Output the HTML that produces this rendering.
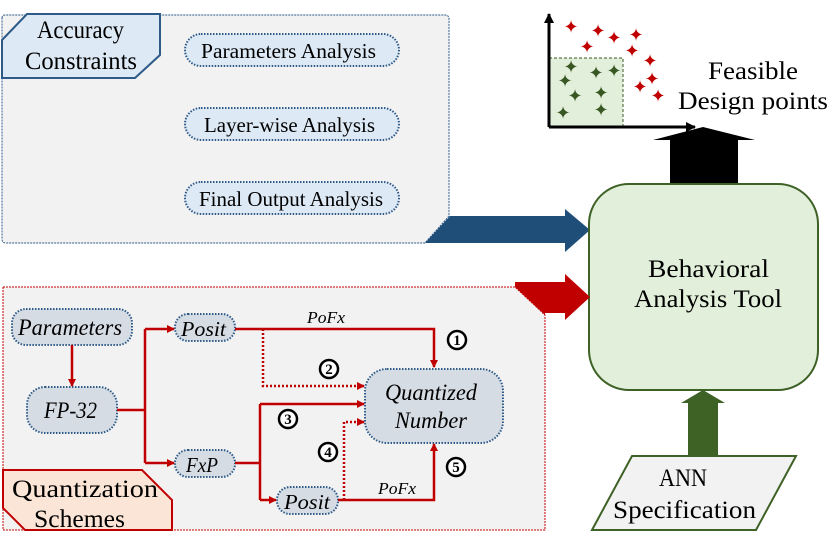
<!DOCTYPE html>
<html><head><meta charset="utf-8"><style>
html,body{margin:0;padding:0;background:#fff}
svg{display:block}
text{font-family:"Liberation Serif",serif}
</style></head><body>
<svg width="830" height="534" viewBox="0 0 830 534" xmlns="http://www.w3.org/2000/svg">
<defs>
<marker id="ra" markerWidth="8" markerHeight="8" refX="7" refY="4" orient="auto" markerUnits="userSpaceOnUse"><path d="M0,0 L8,4 L0,8 z" fill="#c00000"/></marker>
<marker id="ka" markerWidth="10" markerHeight="10" refX="9" refY="5" orient="auto" markerUnits="userSpaceOnUse"><path d="M0,0 L10,5 L0,10 z" fill="#000"/></marker>
</defs>
<!-- top panel -->
<path d="M2,18 Q2,15 5,15 L445,15 Q449,15 449,19 L449,216 L425,243 L6,243 Q2,243 2,239 Z" fill="#f2f2f2" stroke="#2e5a88" stroke-width="1" stroke-dasharray="2,1"/>
<polygon points="2,40 27,14 160,14 160,55 135,78 2,78" fill="#dde9f5" stroke="#2e5a88" stroke-width="2"/>
<text x="37" y="38" font-size="25" textLength="87" lengthAdjust="spacingAndGlyphs">Accuracy</text>
<text x="25" y="69" font-size="25" textLength="112" lengthAdjust="spacingAndGlyphs">Constraints</text>
<g fill="#dde9f5" stroke="#2e5a88" stroke-width="2" stroke-dasharray="1.5,1.5">
<rect x="185" y="34" width="214" height="32" rx="16"/>
<rect x="185" y="108" width="214" height="32" rx="16"/>
<rect x="185" y="182" width="214" height="32" rx="16"/>
</g>
<g font-size="21" lengthAdjust="spacingAndGlyphs">
<text x="201" y="58" textLength="175" lengthAdjust="spacingAndGlyphs">Parameters Analysis</text>
<text x="204" y="132" textLength="171" lengthAdjust="spacingAndGlyphs">Layer-wise Analysis</text>
<text x="199" y="206" textLength="184" lengthAdjust="spacingAndGlyphs">Final Output Analysis</text>
</g>
<polygon points="425,243 450,216 565,216 565,209 590,230 565,252 565,243" fill="#1f4e79"/>
<!-- scatter -->
<rect x="549" y="58" width="74" height="69" fill="#e2efda" stroke="#385723" stroke-dasharray="3,2"/>
<line x1="549" y1="127" x2="549" y2="14" stroke="#000" stroke-width="3" marker-end="url(#ka)"/>
<line x1="549" y1="127" x2="695" y2="127" stroke="#000" stroke-width="3" marker-end="url(#ka)"/>
<g font-size="18" text-anchor="middle" fill="#c00000">
<text x="571" y="33">✦</text><text x="598" y="37">✦</text><text x="614" y="44">✦</text><text x="636" y="41">✦</text>
<text x="587" y="53">✦</text><text x="632" y="57">✦</text><text x="650" y="67">✦</text><text x="652" y="85">✦</text>
<text x="640" y="93">✦</text><text x="658" y="102">✦</text>
</g>
<g font-size="18" text-anchor="middle" fill="#385723">
<text x="571" y="73">✦</text><text x="596" y="79">✦</text><text x="614" y="77">✦</text><text x="565" y="87">✦</text>
<text x="575" y="102">✦</text><text x="601" y="99">✦</text><text x="563" y="119">✦</text><text x="601" y="116">✦</text>
</g>
<text x="708" y="79" font-size="25" textLength="90" lengthAdjust="spacingAndGlyphs">Feasible</text>
<text x="678" y="109" font-size="25" textLength="150" lengthAdjust="spacingAndGlyphs">Design points</text>
<polygon points="670,184 670,140 653,140 703,127 755,140 738,140 738,184" fill="#000"/>
<!-- behavioral -->
<rect x="589" y="184" width="229" height="206" rx="40" fill="#e2efda" stroke="#3e6126" stroke-width="2"/>
<text x="648" y="277" font-size="25" textLength="121" lengthAdjust="spacingAndGlyphs">Behavioral</text>
<text x="634" y="307" font-size="25" textLength="148" lengthAdjust="spacingAndGlyphs">Analysis Tool</text>
<polygon points="688,456 688,403 681,403 703,390 725,403 718,403 718,456" fill="#3e6126"/>
<polygon points="632,456 796,456 756,530 592,530" fill="#f2f2f2" stroke="#3e6126" stroke-width="2"/>
<text x="659" y="486" font-size="25" textLength="48" lengthAdjust="spacingAndGlyphs">ANN</text>
<text x="613" y="518" font-size="25" textLength="143" lengthAdjust="spacingAndGlyphs">Specification</text>
<!-- bottom panel -->
<polygon points="3,287 515,287 545,315 545,530 3,530" fill="#f2f2f2" stroke="#c00000" stroke-width="1" stroke-dasharray="2,1"/>
<polygon points="515,282 565,282 565,274 590,297 565,320 565,313 545,313 545,315 515,287" fill="#c00000"/>
<g fill="#d6dce4" stroke="#2e5a88" stroke-width="2" stroke-dasharray="1.5,1.5">
<rect x="12" y="309" width="120" height="36" rx="14"/>
<rect x="27" y="387" width="90" height="46" rx="18"/>
<rect x="175" y="314" width="60" height="27" rx="13"/>
<rect x="175" y="450" width="60" height="27" rx="13"/>
<rect x="277" y="487" width="61" height="27" rx="13"/>
<rect x="365" y="369" width="138" height="74" rx="22"/>
</g>
<g font-style="italic">
<text x="18" y="335" font-size="23" textLength="104" lengthAdjust="spacingAndGlyphs">Parameters</text>
<text x="44" y="418" font-size="23" textLength="53" lengthAdjust="spacingAndGlyphs">FP-32</text>
<text x="181" y="336" font-size="21" textLength="45" lengthAdjust="spacingAndGlyphs">Posit</text>
<text x="186" y="472" font-size="21" textLength="32" lengthAdjust="spacingAndGlyphs">FxP</text>
<text x="284" y="509" font-size="21" textLength="46" lengthAdjust="spacingAndGlyphs">Posit</text>
<text x="385" y="400" font-size="23" textLength="92" lengthAdjust="spacingAndGlyphs">Quantized</text>
<text x="395" y="428" font-size="23" textLength="72" lengthAdjust="spacingAndGlyphs">Number</text>
<text x="307" y="323" font-size="17" textLength="38" lengthAdjust="spacingAndGlyphs">PoFx</text>
<text x="378" y="494" font-size="17" textLength="38" lengthAdjust="spacingAndGlyphs">PoFx</text>
</g>
<g stroke="#c00000" stroke-width="2.5" fill="none">
<line x1="72" y1="345" x2="72" y2="386" marker-end="url(#ra)"/>
<polyline points="117,410 145,410"/>
<polyline points="145,329 145,463"/>
<line x1="145" y1="329" x2="174" y2="329" marker-end="url(#ra)"/>
<line x1="145" y1="463" x2="174" y2="463" marker-end="url(#ra)"/>
<polyline points="235,329 434,329 434,367" marker-end="url(#ra)"/>
<polyline points="235,463 260,463"/>
<polyline points="260,404 260,500"/>
<line x1="260" y1="404" x2="364" y2="404" marker-end="url(#ra)"/>
<line x1="260" y1="500" x2="276" y2="500" marker-end="url(#ra)"/>
<polyline points="338,500 434,500 434,444" marker-end="url(#ra)"/>
<polyline points="263,329 263,386 364,386" stroke-dasharray="2,2" marker-end="url(#ra)"/>
<polyline points="344,500 344,422 364,422" stroke-dasharray="2,2" marker-end="url(#ra)"/>
</g>
<g font-size="15" font-weight="bold" text-anchor="middle">
<circle cx="457" cy="340" r="9" fill="#fff" stroke="#000" stroke-width="2.5"/><text x="457" y="345">1</text>
<circle cx="329" cy="369" r="9" fill="#fff" stroke="#000" stroke-width="2.5"/><text x="329" y="374">2</text>
<circle cx="288" cy="419" r="9" fill="#fff" stroke="#000" stroke-width="2.5"/><text x="288" y="424">3</text>
<circle cx="328" cy="452" r="9" fill="#fff" stroke="#000" stroke-width="2.5"/><text x="328" y="457">4</text>
<circle cx="456" cy="467" r="9" fill="#fff" stroke="#000" stroke-width="2.5"/><text x="456" y="472">5</text>
</g>
<polygon points="3,470 142,470 172,500 172,530 25,530 3,508" fill="#fbe5d6" stroke="#c00000" stroke-width="2"/>
<text x="12" y="497" font-size="25" textLength="146" lengthAdjust="spacingAndGlyphs">Quantization</text>
<text x="34" y="527" font-size="25" textLength="91" lengthAdjust="spacingAndGlyphs">Schemes</text>
</svg>
</body></html>
